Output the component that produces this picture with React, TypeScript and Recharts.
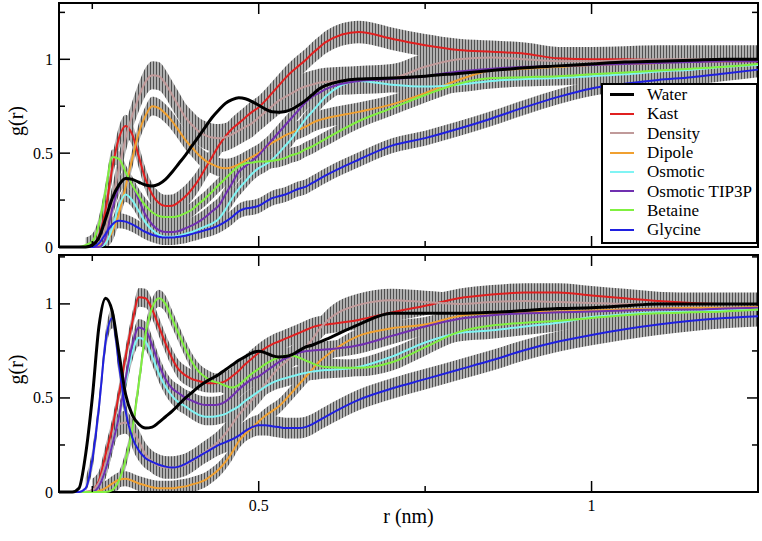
import React from "react";
import { ComposedChart, Line, Area, XAxis, YAxis, ReferenceArea, Label } from "recharts";

const FONT = "'Liberation Serif', 'Times New Roman', Times, 'DejaVu Serif', serif";

// r grid (nm)
const R = [
  0.2, 0.22, 0.23, 0.24,
  0.25, 0.26, 0.27, 0.28, 0.29,
  0.3, 0.31, 0.32, 0.33, 0.34,
  0.35, 0.36, 0.37, 0.38, 0.39,
  0.4, 0.41, 0.42, 0.43, 0.44,
  0.45, 0.46, 0.47, 0.48, 0.49,
  0.5, 0.51, 0.52, 0.53, 0.54,
  0.55, 0.56, 0.57, 0.58, 0.59,
  0.6, 0.65, 0.7, 0.75, 0.8,
  0.85, 0.9, 0.95, 1.0, 1.05,
  1.1, 1.15, 1.2, 1.25,
];

// ---- top panel g(r)
const waterTop = [0,0,0,0, 0.01,0.05,0.15,0.26,0.33, 0.365,0.36,0.345,0.33,0.325, 0.335,0.36,0.4,0.445,0.49, 0.54,0.59,0.64,0.69,0.73, 0.765,0.785,0.795,0.79,0.775, 0.755,0.735,0.72,0.718,0.722, 0.735,0.755,0.78,0.81,0.84, 0.86,0.895,0.9,0.91,0.925, 0.94,0.955,0.965,0.975,0.985, 0.99,0.995,1.0,1.0];
const kastTop = [0,0,0,0, 0.01,0.06,0.2,0.42,0.58, 0.645,0.6,0.48,0.36,0.28, 0.235,0.218,0.22,0.24,0.27, 0.31,0.36,0.42,0.48,0.54, 0.59,0.63,0.66,0.69,0.72, 0.745,0.78,0.82,0.86,0.9, 0.935,0.965,0.995,1.03,1.06, 1.09,1.145,1.11,1.075,1.05, 1.04,1.03,1.005,1.0,1.0, 0.995,0.99,0.99,0.99];
const densityTop = [0,0,0,0, 0,0.02,0.1,0.25,0.42, 0.58,0.7,0.8,0.88,0.915, 0.91,0.87,0.81,0.75,0.69, 0.65,0.615,0.595,0.583,0.58, 0.585,0.6,0.62,0.64,0.66, 0.69,0.72,0.75,0.78,0.8, 0.82,0.84,0.855,0.865,0.875, 0.88,0.89,0.9,0.96,1.0, 1.01,1.0,0.99,0.99,0.995, 1.0,1.0,1.0,1.0];
const dipoleTop = [0,0,0,0, 0,0.01,0.03,0.08,0.18, 0.32,0.47,0.61,0.7,0.75, 0.74,0.71,0.67,0.62,0.57, 0.53,0.49,0.46,0.44,0.425, 0.42,0.425,0.44,0.46,0.48, 0.5,0.53,0.555,0.575,0.595, 0.61,0.625,0.64,0.66,0.675, 0.685,0.72,0.76,0.82,0.89, 0.94,0.95,0.96,0.97,0.975, 0.98,0.99,0.99,1.0];
const osmoticTop = [0,0,0,0, 0,0,0.02,0.1,0.22, 0.28,0.25,0.19,0.13,0.09, 0.065,0.055,0.055,0.06,0.07, 0.08,0.095,0.11,0.125,0.15, 0.2,0.26,0.31,0.35,0.39, 0.42,0.44,0.465,0.5,0.54, 0.58,0.63,0.68,0.72,0.76, 0.8,0.885,0.865,0.855,0.865, 0.885,0.895,0.9,0.91,0.92, 0.935,0.945,0.96,0.97];
const tip3pTop = [0,0,0,0, 0,0,0.05,0.2,0.32, 0.365,0.33,0.25,0.17,0.12, 0.09,0.08,0.08,0.085,0.1, 0.115,0.135,0.16,0.19,0.22, 0.28,0.34,0.4,0.43,0.46, 0.49,0.53,0.57,0.61,0.65, 0.69,0.73,0.77,0.8,0.82, 0.84,0.885,0.895,0.91,0.935, 0.95,0.96,0.965,0.97,0.975, 0.98,0.985,0.99,0.99];
const betaineTop = [0,0,0,0.01, 0.03,0.12,0.3,0.48,0.47, 0.4,0.33,0.27,0.22,0.185, 0.165,0.16,0.16,0.165,0.18, 0.2,0.23,0.26,0.295,0.33, 0.365,0.4,0.43,0.445,0.45, 0.455,0.455,0.46,0.465,0.475, 0.49,0.5,0.52,0.535,0.555, 0.575,0.67,0.74,0.81,0.87, 0.9,0.905,0.91,0.92,0.93, 0.94,0.95,0.96,0.975];
const glycineTop = [0,0,0,0, 0,0.02,0.07,0.12,0.14, 0.135,0.12,0.1,0.08,0.065, 0.055,0.05,0.05,0.055,0.06, 0.07,0.08,0.09,0.1,0.115, 0.135,0.16,0.19,0.205,0.21, 0.22,0.24,0.26,0.27,0.28, 0.295,0.31,0.32,0.34,0.36, 0.38,0.465,0.54,0.58,0.63, 0.685,0.745,0.8,0.845,0.87, 0.89,0.905,0.925,0.945];

// ---- bottom panel g(r)
const waterBot = [0,0,0.02,0.2, 0.5,0.88,1.03,0.96,0.74, 0.52,0.41,0.36,0.34,0.345, 0.37,0.4,0.43,0.465,0.5, 0.53,0.56,0.585,0.605,0.625, 0.65,0.675,0.7,0.72,0.74, 0.748,0.74,0.725,0.718,0.72, 0.73,0.75,0.77,0.78,0.795, 0.81,0.89,0.95,0.95,0.95, 0.955,0.965,0.975,0.98,0.99, 1.0,1.0,1.0,1.0];
const kastBot = [0,0,0,0, 0.01,0.06,0.2,0.34,0.52, 0.72,0.9,1.035,1.03,0.97, 0.88,0.79,0.71,0.65,0.62, 0.6,0.59,0.58,0.578,0.58, 0.59,0.615,0.645,0.68,0.71, 0.74,0.765,0.785,0.8,0.815, 0.83,0.845,0.86,0.875,0.885, 0.89,0.915,0.955,0.99,1.03, 1.05,1.06,1.06,1.045,1.03, 1.015,1.005,1.0,1.0];
const densityBot = [0,0,0,0, 0.01,0.05,0.15,0.28,0.36, 0.37,0.33,0.27,0.2,0.16, 0.14,0.13,0.13,0.135,0.145, 0.165,0.19,0.215,0.24,0.27, 0.31,0.36,0.41,0.45,0.49, 0.53,0.575,0.62,0.66,0.69, 0.72,0.745,0.77,0.81,0.86, 0.9,0.995,1.02,1.01,1.0, 1.01,1.015,1.01,1.005,1.0, 1.0,1.0,1.0,1.0];
const dipoleBot = [0,0,0,0, 0,0.005,0.02,0.045,0.065, 0.07,0.06,0.045,0.035,0.025, 0.02,0.02,0.02,0.025,0.03, 0.04,0.05,0.065,0.09,0.12, 0.16,0.21,0.27,0.31,0.34, 0.375,0.405,0.43,0.455,0.49, 0.53,0.57,0.61,0.65,0.69, 0.72,0.83,0.87,0.89,0.935, 0.95,0.955,0.96,0.965,0.97, 0.975,0.98,0.98,0.985];
const osmoticBot = [0,0,0,0, 0,0.03,0.12,0.25,0.4, 0.58,0.74,0.82,0.8,0.72, 0.63,0.56,0.51,0.475,0.455, 0.43,0.41,0.4,0.4,0.405, 0.415,0.435,0.455,0.485,0.51, 0.535,0.56,0.58,0.595,0.605, 0.615,0.625,0.633,0.64,0.645, 0.648,0.665,0.72,0.795,0.845, 0.86,0.88,0.9,0.93,0.945, 0.955,0.96,0.965,0.97];
const tip3pBot = [0,0,0,0, 0,0.03,0.12,0.25,0.4, 0.6,0.78,0.875,0.86,0.78, 0.68,0.6,0.55,0.525,0.5, 0.485,0.47,0.463,0.462,0.465, 0.48,0.51,0.545,0.575,0.6, 0.615,0.64,0.665,0.69,0.71, 0.725,0.74,0.748,0.752,0.755, 0.757,0.78,0.83,0.88,0.92, 0.94,0.95,0.955,0.96,0.965, 0.97,0.97,0.975,0.98];
const betaineBot = [0,0,0,0, 0,0,0,0.01,0.06, 0.17,0.33,0.58,0.84,0.98, 1.03,1.0,0.92,0.84,0.76, 0.69,0.64,0.61,0.59,0.58, 0.565,0.555,0.57,0.6,0.63, 0.655,0.68,0.7,0.715,0.725, 0.725,0.715,0.7,0.685,0.672, 0.665,0.66,0.69,0.77,0.85, 0.885,0.9,0.91,0.925,0.94, 0.95,0.955,0.96,0.97];
const glycineBot = [0,0,0,0.02, 0.17,0.45,0.8,0.925,0.68, 0.43,0.29,0.22,0.18,0.16, 0.145,0.135,0.13,0.135,0.15, 0.17,0.19,0.21,0.23,0.25, 0.265,0.28,0.3,0.325,0.345, 0.355,0.355,0.35,0.345,0.34, 0.34,0.34,0.345,0.36,0.38, 0.4,0.49,0.55,0.6,0.65, 0.7,0.755,0.8,0.835,0.865, 0.89,0.91,0.925,0.935];

// error half-widths, same order as SERIES
const ERR_TOP = [0, 0.06, 0.075, 0.05, 0.04, 0.045, 0.04, 0.04];
const ERR_BOT = [0, 0.05, 0.06, 0.04, 0.045, 0.045, 0.045, 0.055];

const X_TICKS = [0.25, 0.5, 0.75, 1];
const X_MAJOR = [0.5, 1];
const Y_TICKS = [0, 0.25, 0.5, 0.75, 1, 1.25];
const Y_MAJOR = [0, 0.5, 1];

const SERIES = [
  { key: "water", name: "Water", color: "#000000", width: 3 },
  { key: "kast", name: "Kast", color: "#e02020", width: 2 },
  { key: "density", name: "Density", color: "#c09a9a", width: 2 },
  { key: "dipole", name: "Dipole", color: "#f0a030", width: 2 },
  { key: "osmotic", name: "Osmotic", color: "#80f4f4", width: 2 },
  { key: "tip3p", name: "Osmotic TIP3P", color: "#7030b0", width: 2 },
  { key: "betaine", name: "Betaine", color: "#80f040", width: 2 },
  { key: "glycine", name: "Glycine", color: "#2020e0", width: 2 },
];

const TOP_VALUES = [waterTop, kastTop, densityTop, dipoleTop, osmoticTop, tip3pTop, betaineTop, glycineTop];
const BOT_VALUES = [waterBot, kastBot, densityBot, dipoleBot, osmoticBot, tip3pBot, betaineBot, glycineBot];

function buildRows(values: number[][], errs: number[]) {
  return R.map((r, i) => {
    const row: any = { r };
    SERIES.forEach((s, k) => {
      const v = values[k][i];
      row[s.key] = v;
      const e = errs[k];
      row[s.key + "Band"] = e > 0 && v > 0 ? [Math.max(0, v - e), v + e] : null;
    });
    return row;
  });
}

const topRows = buildRows(TOP_VALUES, ERR_TOP);
const botRows = buildRows(BOT_VALUES, ERR_BOT);

const W = 762;
const LEFT = 59;
const RIGHT = 758;

const makeXTick = (plotTop: number, plotBottom: number, labels: boolean) => (props: any) => {
  const { x, payload } = props;
  const major = X_MAJOR.includes(payload.value);
  const len = major ? 11 : 6;
  return (
    <g>
      <line x1={x} x2={x} y1={plotBottom} y2={plotBottom - len} stroke="#000" strokeWidth={1.5} />
      <line x1={x} x2={x} y1={plotTop} y2={plotTop + len} stroke="#000" strokeWidth={1.5} />
      {labels && major && (
        <text x={x} y={plotBottom + 19} textAnchor="middle" fontSize={16} fontFamily={FONT} fill="#000">
          {String(payload.value)}
        </text>
      )}
    </g>
  );
};

const yTick = (props: any) => {
  const { y, payload } = props;
  const major = Y_MAJOR.includes(payload.value);
  const len = major ? 11 : 6;
  return (
    <g>
      <line x1={LEFT} x2={LEFT + len} y1={y} y2={y} stroke="#000" strokeWidth={1.5} />
      <line x1={RIGHT} x2={RIGHT - len} y1={y} y2={y} stroke="#000" strokeWidth={1.5} />
      {major && (
        <text x={LEFT - 6} y={y + 5.5} textAnchor="end" fontSize={16} fontFamily={FONT} fill="#000">
          {String(payload.value)}
        </text>
      )}
    </g>
  );
};

const GLabel = (props: any) => {
  const vb = props.viewBox || {};
  const cy = vb.y + vb.height / 2 - 4;
  return (
    <text x={23} y={cy} transform={`rotate(-90, 23, ${cy})`} textAnchor="middle" fontSize={20} fontFamily={FONT} fill="#000">
      g(r)
    </text>
  );
};

const RLabel = () => (
  <text x={(LEFT + RIGHT) / 2} y={273} textAnchor="middle" fontSize={20} fontFamily={FONT} fill="#000">
    r (nm)
  </text>
);

function Panel({ rows, height, marginTop, marginBottom, axisHeight, yMax, plotTop, plotBottom, labels, id }: any) {
  return (
    <ComposedChart
      width={W}
      height={height}
      data={rows}
      margin={{ top: marginTop, right: W - RIGHT, left: 0, bottom: marginBottom }}
      style={{ overflow: "visible" }}
    >
      <defs>
        <pattern id={id} width={3} height={8} patternUnits="userSpaceOnUse">
          <rect x={0} y={0} width={3} height={8} fill="#b0b0b0" />
          <line x1={0.5} x2={0.5} y1={0} y2={8} stroke="#454545" strokeWidth={0.9} />
        </pattern>
      </defs>
      <XAxis
        type="number"
        dataKey="r"
        domain={[0.2, 1.25]}
        ticks={X_TICKS}
        interval={0}
        height={axisHeight}
        axisLine={false}
        tickLine={false}
        tickSize={0}
        tick={makeXTick(plotTop, plotBottom, labels)}
      >
        {labels && <Label content={RLabel} />}
      </XAxis>
      <YAxis
        type="number"
        domain={[0, yMax]}
        ticks={Y_TICKS}
        interval={0}
        width={LEFT}
        axisLine={false}
        tickLine={false}
        tickSize={0}
        tick={yTick}
      >
        <Label content={GLabel} />
      </YAxis>
      {SERIES.filter((s) => s.key !== "water").map((s) => (
        <Area
          key={s.key + "Band"}
          dataKey={s.key + "Band"}
          type="monotone"
          stroke="none"
          fill={`url(#${id})`}
          fillOpacity={1}
          dot={false}
          activeDot={false}
          isAnimationActive={false}
        />
      ))}
      {SERIES.slice(1).concat(SERIES.slice(0, 1)).map((s) => (
        <Line
          key={s.key}
          dataKey={s.key}
          type="monotone"
          stroke={s.color}
          strokeWidth={s.width}
          dot={false}
          activeDot={false}
          isAnimationActive={false}
        />
      ))}
      <ReferenceArea x1={0.2} x2={1.25} y1={0} y2={yMax} fill="none" fillOpacity={0} stroke="#000" strokeWidth={2} ifOverflow="visible" />
    </ComposedChart>
  );
}

function LegendBox() {
  return (
    <div
      style={{
        position: "absolute",
        left: 601,
        top: 83,
        width: 157,
        height: 161,
        border: "2px solid #000",
        boxSizing: "border-box",
        background: "#fff",
        fontFamily: FONT,
        fontSize: 17,
        color: "#000",
      }}
    >
      {SERIES.map((s) => (
        <div key={s.key} style={{ height: 19.3, display: "flex", alignItems: "center" }}>
          <div style={{ marginLeft: 7, width: 24, height: s.width, background: s.color }} />
          <span style={{ marginLeft: 13, lineHeight: "19px", whiteSpace: "nowrap" }}>{s.name}</span>
        </div>
      ))}
    </div>
  );
}

export default function App() {
  return (
    <div style={{ position: "absolute", left: 0, top: 0, width: 762, height: 541, background: "#fff", fontFamily: FONT }}>
      <div style={{ position: "absolute", left: 0, top: 0 }}>
        <Panel rows={topRows} height={256} marginTop={3} marginBottom={6} axisHeight={3} yMax={1.3} plotTop={3} plotBottom={247} labels={false} id="ebTop" />
      </div>
      <div style={{ position: "absolute", left: 0, top: 250 }}>
        <Panel rows={botRows} height={291} marginTop={5} marginBottom={0} axisHeight={49} yMax={1.26} plotTop={5} plotBottom={242} labels={true} id="ebBot" />
      </div>
      <LegendBox />
    </div>
  );
}
